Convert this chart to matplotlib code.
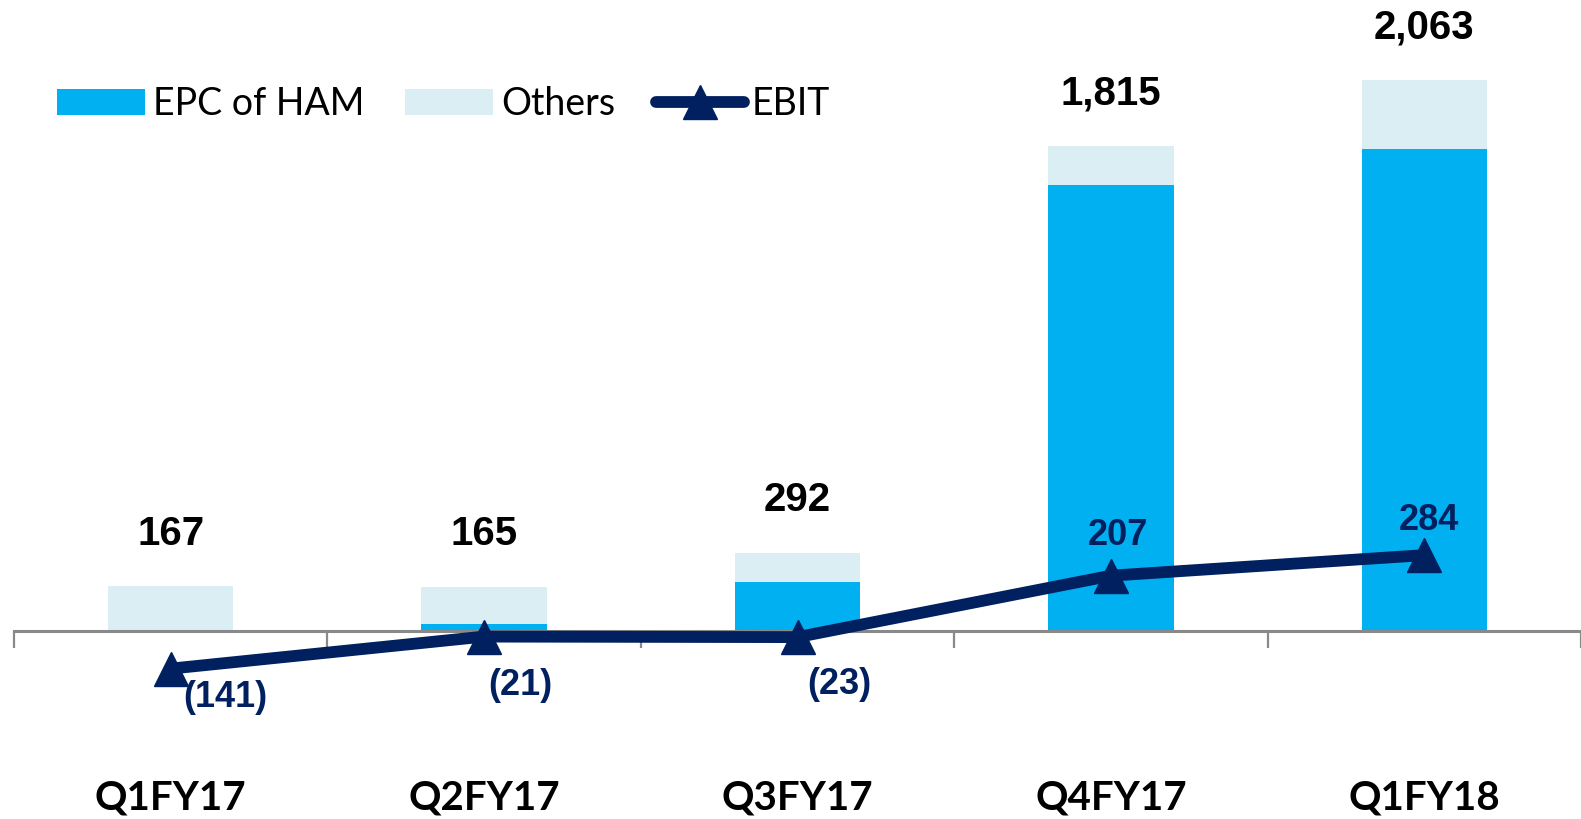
import matplotlib
matplotlib.use("Agg")
import matplotlib.pyplot as plt
import numpy as np

categories = ["Q1FY17", "Q2FY17", "Q3FY17", "Q4FY17", "Q1FY18"]
epc_ham = [0, 26, 185, 1668, 1806]
others = [167, 139, 107, 147, 257]
totals = [167, 165, 292, 1815, 2063]
ebit = [-141, -21, -23, 207, 284]
ebit_labels = ["(141)", "(21)", "(23)", "207", "284"]

C_EPC = "#00B0F0"
C_OTH = "#DAEEF3"
C_EBIT = "#002060"

W, H = 1581, 819
fig = plt.figure(figsize=(W / 100, H / 100), dpi=100)
ax = fig.add_axes([14 / W, 59 / H, (W - 14) / W, 760 / H])

x = np.arange(len(categories))
bw = 0.4
b1 = ax.bar(x, epc_ham, bw, color=C_EPC, label="EPC of HAM", zorder=2)
b2 = ax.bar(x, others, bw, bottom=epc_ham, color=C_OTH, label="Others", zorder=2)
ln, = ax.plot(x, ebit, color=C_EBIT, lw=8.5, marker="^", markersize=25,
              label="EBIT", zorder=4, solid_capstyle="round")

ax.set_xlim(-0.5, len(categories) - 0.5)
ax.set_ylim(-483, 2362)

for s in ["top", "right", "left"]:
    ax.spines[s].set_visible(False)
ax.spines["bottom"].set_position(("data", 0))
ax.spines["bottom"].set_color("#898989")
ax.spines["bottom"].set_linewidth(2.2)
ax.spines["bottom"].set_zorder(3)
ax.set_yticks([])
ax.set_xticks(np.arange(-0.5, len(categories), 1.0))
ax.set_xticklabels([])
ax.tick_params(axis="x", direction="out", length=12, width=1.6, color="#898989")

# total labels
for xi, t, e, o in zip(x, totals, epc_ham, others):
    ax.annotate(f"{t:,}", (xi, e + o), xytext=(0, 38), textcoords="offset points",
                ha="center", va="center", fontsize=29, fontweight="bold",
                family=["Liberation Sans", "DejaVu Sans"], color="black", zorder=5)

# EBIT labels
offs = [(39, -21), (26, -35), (30, -34), (5, 29), (3, 25)]
for xi, v, lab, (dx, dy) in zip(x, ebit, ebit_labels, offs):
    ax.annotate(lab, (xi, v), xytext=(dx, dy), textcoords="offset points",
                ha="center", va="center", fontsize=26, fontweight="bold",
                family=["Liberation Sans Narrow", "DejaVu Sans Condensed", "Liberation Sans"],
                color=C_EBIT, zorder=5)

# category labels
tr = matplotlib.transforms.blended_transform_factory(ax.transData, fig.transFigure)
for xi, c in zip(x, categories):
    ax.text(xi, 1 - 798 / H, c, transform=tr,
            ha="center", va="center", fontsize=29, fontweight="bold",
            family=["Lato", "DejaVu Sans"], color="black")

leg = ax.legend([b1, b2, ln], ["EPC of HAM", "Others", "EBIT"],
                loc="upper left", bbox_to_anchor=(57 / W, 1 - 86 / H),
                bbox_transform=fig.transFigure, ncol=3, frameon=False,
                prop={"family": "Lato", "size": 27}, handlelength=2.35,
                handleheight=0.72, handletextpad=0.2, columnspacing=1.1,
                borderpad=0, borderaxespad=0)

fig.savefig("out.png", dpi=100)
